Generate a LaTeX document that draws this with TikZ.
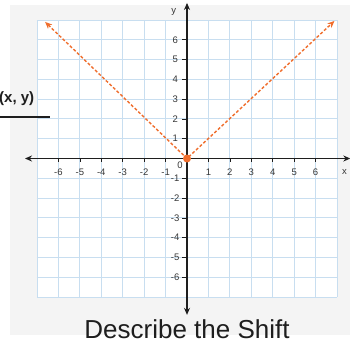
\documentclass[tikz,border=0pt]{standalone}
\usepackage{fontspec}
\setmainfont{Liberation Sans}
\usetikzlibrary{arrows.meta}
\definecolor{gridblue}{RGB}{200,222,240}
\definecolor{bggray}{RGB}{244,244,244}
\definecolor{curvec}{RGB}{240,110,45}
\definecolor{axisc}{RGB}{30,30,30}
\definecolor{labc}{RGB}{55,55,55}
\tikzset{
  gridline/.style={draw=gridblue, line width=0.9pt},
  axisline/.style={draw=axisc, line width=1.1pt, {Stealth[length=7pt,width=6pt]}-{Stealth[length=7pt,width=6pt]}},
  ticklab/.style={font=\fontsize{9.5}{9.5}\selectfont, text=labc, inner sep=0pt},
  tickmark/.style={draw=axisc, line width=0.7pt},
  curveline/.style={draw=curvec, line width=1.4pt, dash pattern=on 3pt off 2pt, {Stealth[length=7pt,width=6pt]}-{Stealth[length=7pt,width=6pt]}},
}
\begin{document}
\begin{tikzpicture}[x=1pt,y=-1pt]
\useasboundingbox (0,0) rectangle (350,345);
\fill[white] (0,0) rectangle (350,345);
\fill[bggray] (10,5) rectangle (350,335);
% title
\node[font=\fontsize{26}{26}\selectfont, text=axisc, inner sep=0pt] (title) at (187,329) {Describe the Shift};
\begin{scope}[shift={(187pt,-158.5pt)}, x=21.43pt, y=19.79pt]
  \fill[white] (-7,-7) rectangle (7,7);
  \foreach \i in {-7,...,7} {
    \draw[gridline] (\i,-7) -- (\i,7);
    \draw[gridline] (-7,\i) -- (7,\i);
  }
  \coordinate (xL) at (-7.56,0);
  \coordinate (xR) at (7.62,0);
  \coordinate (yB) at (0,-7.9);
  \coordinate (yT) at (0,7.86);
  \draw[axisline] (xL) -- (xR);
  \draw[axisline] (yB) -- (yT);
  \foreach \i in {-6,...,-1,1,2,...,6} {
    \draw[tickmark] (\i,0) -- (\i,-0.2);
    \draw[tickmark] (-0.22,\i) -- (0,\i);
    \node[ticklab] (xlab\i) at (\i,-0.68) {\i};
    \node[ticklab] (ylab\i) at (-0.55,\i) {\i};
  }
  \node[ticklab] (zero) at (-0.33,-0.36) {0};
  \node[ticklab] (ylabel) at (-0.62,7.4) {y};
  \node[ticklab] (xlabel) at (7.35,-0.68) {x};
  \coordinate (pL) at (-6.62,6.9);
  \coordinate (o) at (0,0);
  \coordinate (pR) at (6.88,6.95);
  \draw[curveline] (pL) -- (o) -- (pR);
  \node[circle, fill=curvec, inner sep=0pt, minimum size=8pt] (dot) at (o) {};
\end{scope}
% label on the left
\node[anchor=west, font=\fontsize{15}{15}\selectfont\bfseries, text=axisc, inner sep=0pt] (xy) at (-1,99) {(x, y)};
\coordinate (ulA) at (0,117);
\coordinate (ulB) at (50,117);
\draw[axisc, line width=1.5pt] (ulA) -- (ulB);
\end{tikzpicture}
\end{document}
